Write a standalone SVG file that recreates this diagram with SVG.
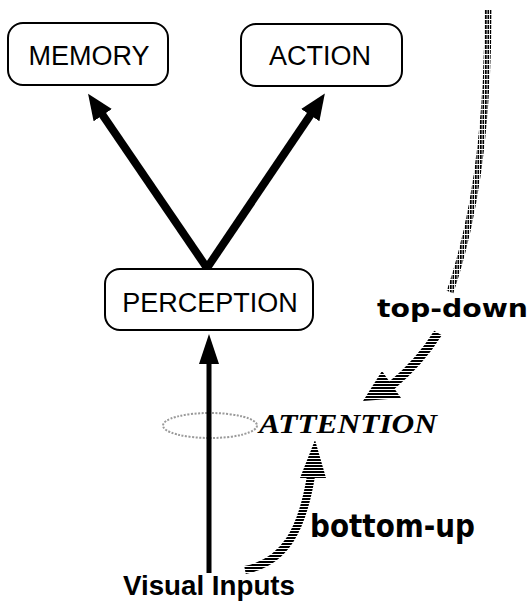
<svg xmlns="http://www.w3.org/2000/svg" width="532" height="603" viewBox="0 0 532 603">
<style>
.box{fill:#fff;stroke:#000;stroke-width:2}
.lbl{font-family:"Liberation Sans",Arial,sans-serif;font-size:27px;fill:#000;text-anchor:middle}
.thick{stroke:#000;stroke-width:8;fill:none}
.thin{stroke:#000;stroke-width:5;fill:none}
.hatchH{stroke:url(#hh);fill:none}
.cond{font-family:"DejaVu Sans Condensed","DejaVu Sans",sans-serif;font-weight:bold;fill:#000}
</style>
<defs>
<pattern id="hh" patternUnits="userSpaceOnUse" width="4" height="3"><rect x="0" y="0" width="4" height="2" fill="#000"/></pattern>
<pattern id="hv" patternUnits="userSpaceOnUse" width="2.5" height="5"><rect x="0" y="0" width="1.7" height="4" fill="#000"/></pattern>
<marker id="ah" markerUnits="userSpaceOnUse" markerWidth="28" markerHeight="24" refX="2" refY="11" orient="auto"><path d="M0,0 L26,11 L0,22 z" fill="#000"/></marker>
<marker id="ah2" markerUnits="userSpaceOnUse" markerWidth="32" markerHeight="22" refX="2" refY="10" orient="auto"><path d="M0,0 L30,10 L0,20 z" fill="#000"/></marker>
</defs>

<g id="attention-ellipse">
<ellipse cx="210" cy="425.5" rx="47" ry="12.5" fill="none" stroke="#9a9a9a" stroke-width="2" stroke-dasharray="2 1.5"/>
</g>

<g id="connectors">
<line class="thick" x1="207" y1="268" x2="101.6" y2="113.5" marker-end="url(#ah)"/>
<line class="thick" x1="207" y1="268" x2="311.4" y2="113.5" marker-end="url(#ah)"/>
<line class="thin" x1="209" y1="573" x2="209" y2="362" marker-end="url(#ah2)"/>
<path d="M488,10 C488,110 478,210 450,292" stroke="url(#hv)" stroke-width="7" fill="none"/>
<path class="hatchH" d="M438,333 Q420,362 391,386" stroke-width="9"/>
<polygon points="363,401 382,371 401,398" fill="url(#hh)"/>
<path class="hatchH" d="M245,570 C285,562 302,530 311,476" stroke-width="8"/>
<polygon points="315,440 326,478 300,478" fill="url(#hh)"/>
</g>

<g id="memory">
<rect class="box" x="8" y="23" width="160" height="62" rx="15"/>
<text class="lbl" x="89" y="65">MEMORY</text>
</g>
<g id="action">
<rect class="box" x="241" y="24" width="161" height="62" rx="15"/>
<text class="lbl" x="320" y="65">ACTION</text>
</g>
<g id="perception">
<rect class="box" x="105" y="269" width="208" height="61" rx="15"/>
<text class="lbl" x="210" y="312" font-size="28">PERCEPTION</text>
</g>
<g id="attention">
<text x="259" y="433" font-family="'Liberation Serif','Times New Roman',serif" font-weight="bold" font-style="italic" font-size="28" textLength="178" lengthAdjust="spacingAndGlyphs">ATTENTION</text>
</g>
<g id="top-down">
<text class="cond" x="377" y="317" font-size="25" textLength="151" lengthAdjust="spacingAndGlyphs">top-down</text>
</g>
<g id="bottom-up">
<text class="cond" x="310" y="537" font-size="32" textLength="165" lengthAdjust="spacingAndGlyphs">bottom-up</text>
</g>
<g id="visual-inputs">
<text x="209" y="595" font-family="'Liberation Sans',Arial,sans-serif" font-weight="bold" font-size="27" text-anchor="middle" textLength="172" lengthAdjust="spacingAndGlyphs">Visual Inputs</text>
</g>
</svg>
